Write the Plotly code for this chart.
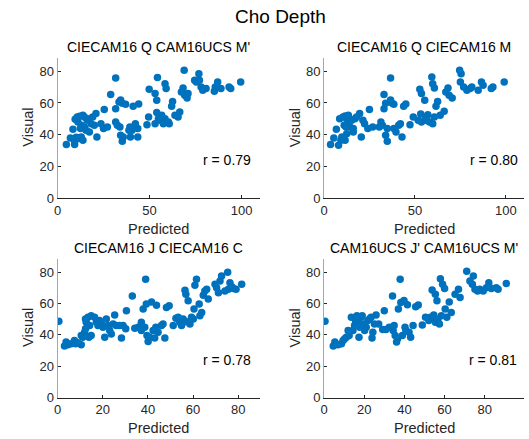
import plotly.graph_objects as go

# ---------------- data ----------------
titles = ["CIECAM16 Q CAM16UCS M'", "CIECAM16 Q CIECAM16 M",
          "CIECAM16 J CIECAM16 C", "CAM16UCS J' CAM16UCS M'"]
r_values = ["0.79", "0.80", "0.78", "0.81"]

p1_pred = [4.8, 7.0, 8.4, 9.6, 9.3, 10.7, 12.0, 13.8, 14.6, 11.1, 12.9, 12.5, 14.6, 15.5, 10.2,
           11.4, 12.9, 13.8, 9.3, 17.3, 18.2, 19.1, 20.9, 16.1, 21.4, 20.0, 17.3, 23.6, 25.4, 25.0,
           27.1, 28.9, 31.6, 31.6, 31.6, 32.5, 33.4, 34.3, 35.2, 37.0, 34.3, 35.2, 35.7, 33.9, 39.3,
           38.8, 40.5, 39.6, 41.1, 44.1, 42.3, 43.6, 43.6, 48.6, 49.5, 49.8, 53.0, 54.3, 53.9, 53.9,
           53.0, 54.8, 55.7, 56.6, 57.5, 58.4, 59.0, 58.4, 60.2, 60.7, 62.0, 62.5, 63.8, 65.5, 66.4,
           67.3, 68.2, 68.8, 69.1, 70.4, 70.9, 74.5, 75.4, 76.8, 77.1, 78.0, 78.9, 80.7, 85.2, 85.7,
           87.0, 88.8, 93.2, 94.1, 99.5]
p1_vis = [33.7, 37.9, 43.4, 49.7, 33.7, 51.2, 51.6, 52.2, 51.2, 48.0, 45.9, 43.8, 44.8, 42.7, 38.3,
          37.5, 38.5, 36.4, 35.8, 50.1, 46.9, 51.2, 53.3, 49.1, 38.5, 45.9, 41.7, 46.9, 55.8, 43.8,
          44.8, 65.3, 75.8, 56.4, 48.0, 45.9, 60.6, 61.9, 59.8, 59.2, 39.6, 35.8, 38.5, 44.8, 44.8,
          42.7, 42.7, 38.5, 57.9, 59.4, 46.9, 43.8, 38.5, 46.3, 51.2, 68.6, 65.9, 76.0, 61.7, 53.9,
          46.9, 50.1, 49.1, 52.2, 46.9, 72.2, 69.1, 50.1, 48.0, 46.9, 57.9, 61.0, 52.2, 51.2, 54.3,
          66.9, 69.5, 80.6, 64.8, 63.2, 65.9, 74.3, 73.3, 78.5, 74.3, 70.1, 68.0, 69.1, 67.4, 70.1,
          73.3, 69.1, 70.1, 69.1, 73.3]

p2_pred = [3.6, 5.4, 6.8, 8.6, 8.0, 9.3, 9.8, 10.4, 11.6, 12.5, 13.4, 11.1, 12.1, 13.4, 14.3,
           15.2, 16.1, 12.5, 11.6, 16.1, 17.0, 17.9, 19.6, 20.5, 21.4, 22.3, 24.1, 25.0, 26.8, 30.4,
           31.3, 32.1, 33.0, 33.0, 33.9, 34.8, 33.9, 34.8, 36.6, 36.6, 37.5, 38.4, 38.4, 39.6, 41.1,
           42.0, 42.9, 43.8, 45.0, 47.3, 49.1, 51.8, 52.7, 53.6, 53.2, 53.6, 55.4, 55.4, 56.3, 57.1,
           58.0, 59.3, 59.8, 60.7, 59.8, 60.7, 61.6, 62.5, 63.9, 66.1, 67.0, 68.2, 68.8, 70.5, 74.6,
           75.4, 75.0, 76.8, 78.6, 80.4, 81.3, 84.8, 86.6, 87.5, 92.0, 92.9, 99.1]
p2_vis = [33.7, 37.9, 43.4, 50.1, 33.3, 36.4, 38.5, 51.2, 51.8, 50.1, 52.2, 45.9, 44.8, 46.9, 44.8,
          49.1, 43.8, 40.6, 36.4, 41.7, 50.1, 51.2, 53.3, 38.5, 49.1, 46.9, 43.8, 55.8, 44.8, 44.8,
          48.0, 45.9, 65.3, 56.4, 59.8, 43.8, 39.6, 35.8, 75.8, 61.9, 59.8, 59.2, 43.8, 41.7, 45.9,
          46.9, 38.5, 57.9, 59.4, 46.3, 51.2, 49.1, 68.6, 65.9, 53.1, 48.0, 61.7, 49.1, 51.2, 52.6,
          48.0, 76.4, 72.2, 69.5, 46.9, 51.2, 57.9, 61.0, 52.2, 54.7, 66.9, 69.5, 64.8, 63.2, 80.6,
          78.5, 73.3, 70.1, 68.0, 69.1, 70.1, 68.0, 73.3, 71.2, 69.1, 70.1, 73.3]

p3_pred = [0.6, 3.1, 3.8, 4.6, 6.1, 7.5, 8.0, 9.0, 10.5, 10.5, 11.2, 12.0, 12.4, 12.4, 12.7,
           13.5, 14.2, 13.9, 14.9, 14.9, 16.4, 17.2, 17.9, 18.6, 19.4, 20.1, 20.9, 21.6, 22.3, 23.1,
           23.8, 24.6, 25.3, 26.0, 27.5, 28.3, 29.0, 30.2, 30.5, 33.1, 34.2, 35.7, 37.1, 37.1, 37.9,
           38.6, 39.0, 39.3, 39.6, 40.1, 40.8, 41.6, 42.3, 43.0, 43.5, 43.8, 44.5, 46.0, 46.7, 47.5,
           48.2, 49.4, 51.2, 52.4, 53.4, 54.1, 54.9, 55.6, 56.4, 56.8, 57.1, 57.8, 58.6, 59.3, 60.1,
           60.4, 60.8, 61.5, 62.7, 63.0, 63.8, 64.5, 65.2, 66.0, 66.7, 69.7, 70.4, 71.2, 71.9, 72.6,
           74.1, 75.3, 75.6, 76.3, 77.1, 77.8, 79.0, 81.5]
p3_vis = [48.6, 32.8, 35.4, 33.7, 34.3, 36.4, 34.3, 34.9, 33.7, 39.6, 38.5, 41.7, 43.8, 50.1, 48.0,
          51.2, 45.9, 38.5, 39.6, 52.2, 51.2, 48.0, 45.9, 49.1, 46.9, 44.8, 38.5, 50.1, 45.9, 42.7,
          40.6, 46.9, 52.6, 45.9, 45.9, 37.9, 45.9, 43.8, 55.4, 64.8, 44.2, 44.8, 42.7, 48.0, 56.4,
          44.8, 75.4, 59.6, 39.6, 35.8, 38.5, 61.0, 42.7, 37.9, 44.8, 58.9, 41.7, 45.9, 46.9, 37.9,
          57.5, 58.5, 45.9, 50.5, 51.2, 48.0, 45.9, 50.1, 68.4, 65.9, 48.4, 61.7, 46.9, 51.2, 50.1,
          56.4, 71.6, 75.4, 59.6, 52.2, 54.3, 65.3, 68.0, 69.1, 62.9, 72.2, 70.1, 66.9, 74.3, 77.5,
          68.0, 80.0, 69.1, 73.3, 70.7, 69.5, 69.1, 72.2]

p4_pred = [0.5, 4.6, 5.4, 7.0, 8.7, 9.5, 10.3, 11.1, 12.0, 12.5, 13.6, 14.4, 15.2, 15.7, 16.4,
           16.9, 17.4, 17.7, 18.5, 19.0, 19.3, 20.2, 21.0, 21.8, 22.6, 23.4, 23.9, 24.3, 25.1, 25.9,
           27.2, 29.2, 30.0, 30.8, 32.5, 34.1, 34.4, 34.9, 35.4, 36.1, 36.6, 37.0, 37.9, 38.2, 39.0,
           39.8, 40.3, 40.7, 41.5, 42.3, 43.1, 44.3, 45.6, 46.9, 48.9, 50.5, 52.1, 53.0, 53.8, 54.6,
           55.4, 55.4, 56.2, 56.7, 57.4, 57.9, 58.4, 59.0, 60.0, 60.3, 61.1, 62.3, 63.3, 65.2, 66.9,
           67.7, 71.0, 72.6, 73.8, 74.3, 75.1, 76.4, 77.5, 79.2, 80.8, 82.0, 83.3, 85.7, 86.6, 90.7]
p4_vis = [48.6, 32.8, 35.4, 33.7, 34.3, 36.4, 37.5, 38.5, 42.7, 39.6, 51.2, 42.7, 45.9, 49.1, 52.2,
          48.0, 38.5, 44.8, 51.2, 52.2, 46.9, 42.7, 44.8, 49.1, 50.1, 51.2, 37.9, 41.7, 46.9, 52.6,
          46.9, 43.4, 55.4, 43.4, 44.8, 64.8, 42.7, 45.9, 39.6, 35.4, 37.5, 56.4, 75.4, 60.6, 39.6,
          61.9, 44.8, 42.7, 59.2, 41.7, 38.5, 45.9, 57.9, 59.0, 46.3, 51.2, 49.1, 51.2, 68.6, 52.6,
          65.9, 48.0, 61.7, 50.1, 46.9, 75.8, 52.2, 72.2, 69.5, 56.4, 51.2, 61.0, 54.3, 65.9, 69.1,
          63.8, 80.6, 74.3, 72.2, 77.5, 69.1, 68.0, 69.1, 68.0, 70.1, 73.3, 69.5, 70.1, 69.1, 72.8]

x_ticks = [[0, 50, 100], [0, 50, 100], [0, 20, 40, 60, 80], [0, 20, 40, 60, 80]]
x_ranges = [[0, 110], [0, 110], [0, 89.6], [0, 99.5]]
y_ticks = [0, 20, 40, 60, 80]
y_range = [0, 88.7]

series = [(p1_pred, p1_vis), (p2_pred, p2_vis), (p3_pred, p3_vis), (p4_pred, p4_vis)]

# ---------------- layout geometry ----------------
W, H = 529, 439
x_doms = [[57.5 / W, 260 / W], [324 / W, 524 / W], [57.5 / W, 260 / W], [324 / W, 524 / W]]
y_doms = [[1 - 198 / H, 1 - 57.5 / H], [1 - 198 / H, 1 - 57.5 / H],
          [1 - 397.5 / H, 1 - 258.5 / H], [1 - 397.5 / H, 1 - 258.5 / H]]
r_pos = [(0.965, 0.27), (0.98, 0.27), (0.965, 0.27), (0.975, 0.27)]

BLUE = "#0072BD"
TXT = "#262626"
FONT = "Liberation Sans, Arial, sans-serif"

fig = go.Figure()
annotations = []
for i, (xs, ys) in enumerate(series):
    n = "" if i == 0 else str(i + 1)
    fig.add_trace(go.Scatter(x=xs, y=ys, mode="markers", xaxis="x" + n, yaxis="y" + n,
                             marker=dict(color=BLUE, size=7.5, line=dict(width=0)),
                             showlegend=False, hoverinfo="x+y"))
    common = dict(showgrid=False, zeroline=False, ticks="inside", ticklen=3,
                  tickcolor=TXT, tickfont=dict(size=13, color=TXT, family=FONT),
                  showline=True, linewidth=1, mirror=False, automargin=False)
    fig.layout["xaxis" + n] = dict(domain=x_doms[i], range=x_ranges[i], tickvals=x_ticks[i],
                                   anchor="y" + n, linecolor=TXT, **common)
    fig.layout["yaxis" + n] = dict(domain=y_doms[i], range=y_range, tickvals=y_ticks,
                                   anchor="x" + n, linecolor="#a6a6a6", **common)
    xd, yd = x_doms[i], y_doms[i]
    xc = (xd[0] + xd[1]) / 2
    yc = (yd[0] + yd[1]) / 2
    # subplot title
    annotations.append(dict(text=titles[i], x=xc, y=yd[1] + 10.5 / H,
                            xref="paper", yref="paper", xanchor="center", yanchor="middle",
                            showarrow=False, font=dict(size=14, color="#000000", family=FONT)))
    # axis labels
    annotations.append(dict(text="Predicted", x=xc, y=yd[0] - 30.5 / H,
                            xref="paper", yref="paper", xanchor="center", yanchor="middle",
                            showarrow=False, font=dict(size=14.5, color=TXT, family=FONT)))
    annotations.append(dict(text="Visual", x=xd[0] - 29.5 / W, y=yc,
                            xref="paper", yref="paper", xanchor="center", yanchor="middle",
                            textangle=-90, showarrow=False,
                            font=dict(size=14.5, color=TXT, family=FONT)))
    rx, ry = r_pos[i]
    annotations.append(dict(text="r = " + r_values[i], x=rx, y=ry,
                            xref="x" + n + " domain", yref="y" + n + " domain",
                            xanchor="right", yanchor="middle", showarrow=False,
                            font=dict(size=14, color="#000000", family=FONT)))

annotations.append(dict(text="Cho Depth", x=280 / W, y=1 - 17 / H, xref="paper", yref="paper",
                        xanchor="center", yanchor="middle", showarrow=False,
                        font=dict(size=19, color="#000000", family=FONT)))

fig.update_layout(width=W, height=H, margin=dict(l=0, r=0, t=0, b=0, autoexpand=False),
                  paper_bgcolor="white", plot_bgcolor="white",
                  annotations=annotations, font=dict(family=FONT))

fig.write_html("out.html", config={"displayModeBar": False},
               post_script="document.body.style.margin='0px';document.body.style.overflow='hidden';")
